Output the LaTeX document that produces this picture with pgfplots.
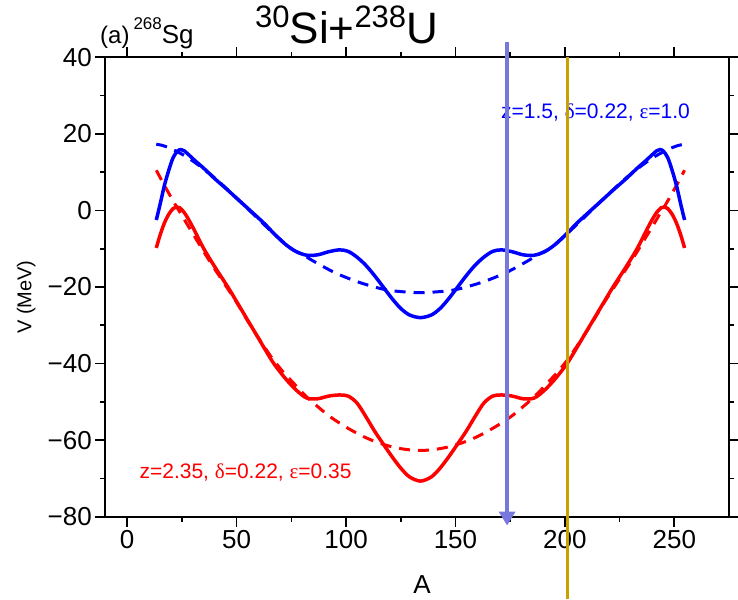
\documentclass[border=0pt]{standalone}
\usepackage{fontspec}
\setmainfont{Liberation Sans}
\newfontfamily\grk{Liberation Serif}
\usepackage{pgfplots}
\pgfplotsset{compat=1.18}
\usetikzlibrary{arrows.meta}
\definecolor{arrowcol}{RGB}{120,120,220}
\definecolor{goldcol}{RGB}{200,160,0}
\begin{document}
\begin{tikzpicture}
\useasboundingbox (-105.3pt,-82.3pt) rectangle (632.7pt,516.7pt);
\begin{axis}[at={(0pt,0pt)}, anchor=south west, scale only axis,
  width=623.7pt, height=459.4pt,
  xmin=-10, xmax=275, ymin=-80, ymax=40, clip=false,
  xtick={0,50,...,250}, minor x tick num=1,
  ytick={-80,-60,...,40}, yticklabels={−80,−60,−40,−20,0,20,40}, minor y tick num=1,
  tick align=outside, major tick length=10pt, minor tick length=5pt,
  axis line style={line width=2.3pt},
  every tick/.style={black, line width=1.6pt},
  ticklabel style={font=\fontsize{26}{26}\selectfont},
  /pgf/number format/assume math mode=true,
  xlabel={A}, xlabel style={font=\fontsize{26}{26}\selectfont, inner sep=0pt, at={(axis description cs:0.508,-0.148)}, anchor=center},
  ylabel={V (MeV)}, ylabel style={font=\fontsize{20}{20}\selectfont, at={(axis description cs:-0.127,0.478)}, anchor=center},
]
% red dashed
\addplot[red, line width=3pt, dash pattern=on 11pt off 8pt, smooth] coordinates {
(13.3,10.5)(16,7.6)(19,4.5)(22,1.5)(25,-1.3)(28,-4.2)(31,-7.0)(35,-10.8)(40,-15.3)(46,-20.5)(50,-24.0)(55,-28.8)(60,-33.3)(66,-38.4)(71,-42.0)(76.5,-45.4)(82,-48.7)(88,-51.7)(93,-54.0)(100,-56.6)(107,-58.8)(113,-60.3)(120,-61.6)(127,-62.4)(134,-62.7)
(141,-62.4)(148,-61.6)(155,-60.3)(161,-58.8)(168,-56.6)(175,-54.0)(180,-51.7)(186,-48.7)(191.5,-45.4)(197,-42.0)(202,-38.4)(208,-33.3)(213,-28.8)(218,-24.0)(222,-20.5)(228,-15.3)(233,-10.8)(237,-7.0)(240,-4.2)(243,-1.3)(246,1.5)(249,4.5)(252,7.6)(254.7,10.5)
};
% red solid
\addplot[red, line width=3.5pt, smooth] coordinates {
(13.3,-9.8)(15,-6.5)(17,-3.3)(19,-1.0)(21,0.5)(22.5,0.9)(24,0.7)(26,-0.5)(28,-2.3)(31,-5.5)(35,-10.0)(40,-14.7)(46,-20.0)(50,-23.8)(55,-28.6)(60,-33.4)(63,-36.3)(67,-40.0)(72,-43.7)(77,-46.8)(82,-49.0)(87,-49.2)(92,-48.5)(97,-48.2)(101,-48.5)(105,-50.3)(109,-53.8)(113,-57.6)(117,-61.0)(121,-64.3)(125,-67.3)(129,-69.6)(134,-70.7)
(139,-69.6)(143,-67.3)(147,-64.3)(151,-61.0)(155,-57.6)(159,-53.8)(163,-50.3)(167,-48.5)(171,-48.2)(176,-48.5)(181,-49.2)(186,-49.0)(191,-46.8)(196,-43.7)(201,-40.0)(205,-36.3)(208,-33.4)(213,-28.6)(218,-23.8)(222,-20.0)(228,-14.7)(233,-10.0)(237,-5.5)(240,-2.3)(242,-0.5)(244,0.7)(245.5,0.9)(247,0.5)(249,-1.0)(251,-3.3)(253,-6.5)(254.7,-9.8)
};
% blue dashed
\addplot[blue, line width=3pt, dash pattern=on 11pt off 8pt, smooth] coordinates {
(13.3,17.3)(16,17.0)(19,16.4)(22,15.6)(25,14.7)(28,13.7)(31,12.5)(35,10.8)(40,8.5)(45,5.9)(50,3.2)(55,0.5)(60,-2.3)(65,-5.0)(70,-7.6)(75,-10.0)(80,-11.5)(85,-13.2)(90,-14.8)(95,-16.3)(100,-17.5)(105,-18.6)(110,-19.5)(115,-20.3)(120,-20.9)(125,-21.2)(130,-21.4)(134,-21.5)
(138,-21.4)(143,-21.2)(148,-20.9)(153,-20.3)(158,-19.5)(163,-18.6)(168,-17.5)(173,-16.3)(178,-14.8)(183,-13.2)(188,-11.5)(193,-10.0)(198,-7.6)(203,-5.0)(208,-2.3)(213,0.5)(218,3.2)(223,5.9)(228,8.5)(233,10.8)(237,12.5)(240,13.7)(243,14.7)(246,15.6)(249,16.4)(252,17.0)(254.7,17.3)
};
% blue solid
\addplot[blue, line width=3.5pt, smooth] coordinates {
(13.3,-2.5)(15,1.5)(17,6.5)(19,10.5)(21,13.8)(23,15.5)(24.5,15.9)(26,15.6)(28,14.6)(31,13.0)(35,11.0)(40,8.3)(45,5.8)(50,3.2)(55,0.6)(60,-2.0)(63,-3.6)(67,-6.0)(72,-8.7)(77,-10.7)(82,-11.7)(87,-11.6)(92,-10.8)(97,-10.3)(101,-10.7)(105,-12.2)(109,-14.3)(113,-17.0)(117,-20.0)(121,-23.0)(125,-25.6)(129,-27.3)(134,-28.0)
(139,-27.3)(143,-25.6)(147,-23.0)(151,-20.0)(155,-17.0)(159,-14.3)(163,-12.2)(167,-10.7)(171,-10.3)(176,-10.8)(181,-11.6)(186,-11.7)(191,-10.7)(196,-8.7)(201,-6.0)(205,-3.6)(208,-2.0)(213,0.6)(218,3.2)(223,5.8)(228,8.3)(233,11.0)(237,13.0)(240,14.6)(242,15.6)(243.5,15.9)(245,15.5)(247,13.8)(249,10.5)(251,6.5)(253,1.5)(254.7,-2.5)
};
\node[text=blue, font=\fontsize{21}{21}\selectfont, inner sep=0pt] at (axis cs:214,25.7) {z=1.5, {\grk δ}=0.22, {\grk ε}=1.0};
\node[text=red, font=\fontsize{21}{21}\selectfont, inner sep=0pt] at (axis cs:54.1,-68.4) {z=2.35, {\grk δ}=0.22, {\grk ε}=0.35};
\draw[goldcol, line width=3.5pt] (axis cs:201.3,40) -- (axis cs:201.3,-101.6);
\draw[arrowcol, line width=4pt, -{Triangle[width=16pt,length=14pt]}] (axis cs:173.6,44) -- (axis cs:173.6,-82.3);
\end{axis}
\node[anchor=base west, inner sep=0pt] at (-5.3pt,473.4pt) {{\fontsize{24}{24}\selectfont (a)}\hspace{4pt}\raisebox{14pt}{\fontsize{17}{17}\selectfont 268}{\fontsize{26}{26}\selectfont Sg}};
\node[anchor=base west, inner sep=0pt] at (149.7pt,473.4pt) {\raisebox{16pt}{\fontsize{31}{31}\selectfont 30}{\fontsize{44}{44}\selectfont Si+}\raisebox{16pt}{\fontsize{31}{31}\selectfont 238}{\fontsize{44}{44}\selectfont U}};
\end{tikzpicture}
\end{document}
